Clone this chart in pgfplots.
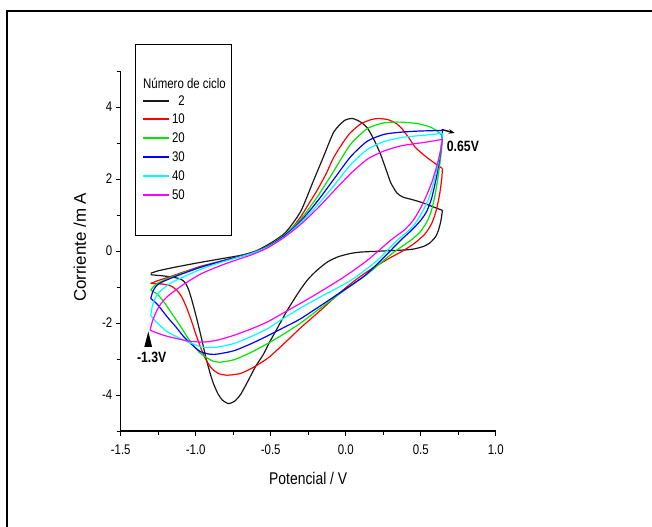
\documentclass[border=0pt]{standalone}
\usepackage{fontspec}
\setmainfont{Liberation Sans}[FakeStretch=0.82]
\newfontfamily\ylabfont{Liberation Sans}
\usepackage{pgfplots}
\pgfplotsset{compat=1.18}
\usetikzlibrary{arrows.meta}
\definecolor{cvblack}{RGB}{25,25,25}
\definecolor{cvred}{RGB}{255,0,0}
\definecolor{cvgreen}{RGB}{0,230,0}
\definecolor{cvblue}{RGB}{0,0,255}
\definecolor{cvcyan}{RGB}{0,255,255}
\definecolor{cvmagenta}{RGB}{255,0,255}

\begin{document}
\begin{tikzpicture}[x=1bp,y=1bp]
\path[use as bounding box] (-120.7,-96) rectangle (531.3,431);
% frame (only top and left edges visible)
\draw[line width=2.2bp] (-113.4,-96) -- (-113.4,420.3) -- (531.3,420.3);

\begin{axis}[
    at={(0,0)}, anchor=south west,
    width=375bp, height=360bp, scale only axis,
    xmin=-1.5, xmax=1.0, ymin=-5, ymax=5,
    axis x line*=bottom, axis y line*=left,
    axis line style={line width=1.1bp,-},
    tick align=outside,
    major tick length=5bp, minor tick length=4bp,
    every tick/.style={black, line width=0.9bp},
    xtick={-1.5,-1,-0.5,0,0.5,1}, xticklabels={-1.5,-1.0,-0.5,0.0,0.5,1.0},
    minor xtick={-1.25,-0.75,-0.25,0.25,0.75},
    ytick={-4,-2,0,2,4}, yticklabels={-4,-2,0,2,4},
    minor ytick={-5,-3,-1,1,3,5},
    ticklabel style={font=\fontsize{14}{16}\selectfont},
    xticklabel style={yshift=-5bp},
    xlabel={Potencial / V}, ylabel={Corriente /m A},
    xlabel style={font=\fontsize{17}{19}\selectfont, at={(axis description cs:0.5,-0.131)}, anchor=center},
    ylabel style={font=\ylabfont\fontsize{17}{19}\selectfont, at={(axis description cs:-0.109,0.51)}, anchor=center},
    clip=false,
    every axis plot/.append style={line width=1.2bp, smooth, tension=0.4},
]
% cycle 2
\addplot[cvblack] coordinates {(-1.30,-0.62) (-1.25,-0.55) (-1.15,-0.46) (-1.0,-0.34) (-0.85,-0.23) (-0.7,-0.12) (-0.6,0.0) (-0.5,0.22) (-0.4,0.52) (-0.3,1.1) (-0.22,1.9) (-0.15,2.6) (-0.08,3.3) (-0.01,3.62) (0.045,3.68) (0.1,3.58) (0.144,3.42) (0.19,3.08) (0.233,2.68) (0.27,2.25) (0.30,1.9) (0.34,1.62) (0.38,1.5) (0.45,1.42) (0.52,1.33) (0.58,1.23) (0.645,1.13)};
\addplot[cvblack] coordinates {(0.645,1.13) (0.635,0.85) (0.62,0.6) (0.6,0.4) (0.56,0.22) (0.52,0.13) (0.46,0.06) (0.4,0.03) (0.3,0.01) (0.2,-0.01) (0.1,-0.03) (0.03,-0.07) (-0.05,-0.16) (-0.12,-0.3) (-0.19,-0.53) (-0.25,-0.78) (-0.3,-1.06) (-0.35,-1.38) (-0.39,-1.65) (-0.43,-1.95) (-0.47,-2.25) (-0.51,-2.55) (-0.55,-2.88) (-0.6,-3.2) (-0.65,-3.6) (-0.7,-3.98) (-0.74,-4.17) (-0.78,-4.24) (-0.82,-4.15) (-0.85,-3.98) (-0.88,-3.7) (-0.9,-3.45) (-0.93,-3.0) (-0.96,-2.45) (-0.99,-1.93) (-1.02,-1.45) (-1.045,-1.1) (-1.07,-0.88) (-1.1,-0.78) (-1.15,-0.73) (-1.22,-0.69) (-1.3,-0.66)};
% cycle 10
\addplot[cvred] coordinates {(-1.3,-0.9) (-1.25,-0.82) (-1.19,-0.74) (-1.1,-0.61) (-0.97,-0.43) (-0.85,-0.3) (-0.74,-0.18) (-0.63,-0.06) (-0.52,0.12) (-0.45,0.3) (-0.37,0.58) (-0.3,0.95) (-0.24,1.35) (-0.19,1.69) (-0.13,2.15) (-0.08,2.6) (-0.02,3.0) (0.03,3.28) (0.1,3.53) (0.17,3.65) (0.22,3.68) (0.28,3.65) (0.33,3.56) (0.37,3.42) (0.42,3.15) (0.46,2.9) (0.5,2.74) (0.55,2.57) (0.6,2.42) (0.645,2.29)};
\addplot[cvred] coordinates {(0.645,2.29) (0.64,2.0) (0.627,1.6) (0.605,1.15) (0.575,0.78) (0.53,0.48) (0.46,0.22) (0.38,0.0) (0.3,-0.18) (0.21,-0.4) (0.12,-0.64) (0.033,-0.91) (-0.05,-1.2) (-0.144,-1.56) (-0.22,-1.84) (-0.3,-2.13) (-0.38,-2.45) (-0.46,-2.76) (-0.52,-2.98) (-0.61,-3.22) (-0.7,-3.4) (-0.79,-3.45) (-0.85,-3.4) (-0.9,-3.23) (-0.94,-2.95) (-0.97,-2.65) (-1.0,-2.3) (-1.03,-1.92) (-1.06,-1.58) (-1.09,-1.3) (-1.12,-1.12) (-1.16,-0.98) (-1.22,-0.92) (-1.3,-0.9)};
% cycle 20
\addplot[cvgreen] coordinates {(-1.3,-1.09) (-1.28,-0.98) (-1.256,-0.9) (-1.19,-0.77) (-1.08,-0.6) (-0.967,-0.45) (-0.85,-0.31) (-0.744,-0.19) (-0.63,-0.06) (-0.52,0.13) (-0.41,0.44) (-0.3,0.88) (-0.19,1.5) (-0.09,2.15) (0.03,2.95) (0.144,3.4) (0.256,3.56) (0.367,3.58) (0.478,3.54) (0.56,3.45) (0.61,3.33) (0.645,3.2)};
\addplot[cvgreen] coordinates {(0.645,3.2) (0.64,2.85) (0.627,2.4) (0.612,1.95) (0.593,1.5) (0.57,1.1) (0.54,0.8) (0.5,0.55) (0.45,0.35) (0.4,0.2) (0.3,-0.1) (0.144,-0.64) (-0.011,-1.1) (-0.189,-1.65) (-0.3,-2.0) (-0.411,-2.3) (-0.52,-2.57) (-0.633,-2.82) (-0.744,-3.02) (-0.844,-3.09) (-0.9,-3.03) (-0.967,-2.85) (-1.02,-2.6) (-1.056,-2.39) (-1.1,-2.1) (-1.144,-1.83) (-1.211,-1.42) (-1.256,-1.2) (-1.3,-1.09)};
% cycle 30
\addplot[cvblue] coordinates {(-1.3,-1.32) (-1.285,-1.12) (-1.265,-0.98) (-1.233,-0.88) (-1.144,-0.72) (-0.967,-0.45) (-0.85,-0.31) (-0.744,-0.19) (-0.63,-0.06) (-0.52,0.12) (-0.41,0.42) (-0.3,0.83) (-0.189,1.38) (-0.078,2.0) (0.033,2.62) (0.144,3.05) (0.256,3.24) (0.367,3.3) (0.478,3.33) (0.56,3.34) (0.645,3.35)};
\addplot[cvblue] coordinates {(0.645,3.35) (0.638,2.95) (0.622,2.45) (0.6,1.95) (0.572,1.45) (0.54,1.1) (0.5,0.85) (0.44,0.58) (0.367,0.3) (0.256,-0.17) (0.122,-0.7) (-0.078,-1.27) (-0.3,-1.88) (-0.41,-2.12) (-0.522,-2.36) (-0.633,-2.58) (-0.744,-2.77) (-0.85,-2.86) (-0.9,-2.87) (-0.967,-2.8) (-1.02,-2.62) (-1.078,-2.39) (-1.13,-2.12) (-1.19,-1.83) (-1.256,-1.48) (-1.3,-1.32)};
% cycle 40
\addplot[cvcyan] coordinates {(-1.3,-1.79) (-1.29,-1.55) (-1.278,-1.38) (-1.256,-1.22) (-1.233,-1.1) (-1.19,-0.96) (-1.144,-0.84) (-1.05,-0.66) (-0.967,-0.51) (-0.85,-0.34) (-0.744,-0.21) (-0.63,-0.07) (-0.52,0.11) (-0.41,0.39) (-0.3,0.79) (-0.189,1.27) (-0.078,1.82) (0.033,2.4) (0.144,2.82) (0.256,3.04) (0.367,3.15) (0.478,3.2) (0.56,3.23) (0.645,3.27)};
\addplot[cvcyan] coordinates {(0.645,3.27) (0.636,2.9) (0.622,2.55) (0.6,2.12) (0.578,1.78) (0.55,1.42) (0.51,1.08) (0.46,0.75) (0.41,0.53) (0.344,0.3) (0.211,-0.26) (0.033,-0.82) (-0.189,-1.32) (-0.3,-1.58) (-0.411,-1.86) (-0.522,-2.16) (-0.633,-2.38) (-0.744,-2.57) (-0.856,-2.67) (-0.92,-2.68) (-0.967,-2.66) (-1.078,-2.48) (-1.19,-2.24) (-1.256,-2.0) (-1.3,-1.79)};
% cycle 50
\addplot[cvmagenta] coordinates {(-1.304,-2.2) (-1.292,-2.0) (-1.278,-1.83) (-1.256,-1.63) (-1.233,-1.47) (-1.2,-1.31) (-1.167,-1.19) (-1.078,-0.92) (-0.967,-0.64) (-0.85,-0.43) (-0.744,-0.27) (-0.63,-0.11) (-0.52,0.09) (-0.41,0.38) (-0.3,0.74) (-0.189,1.18) (-0.078,1.67) (0.033,2.15) (0.144,2.55) (0.256,2.78) (0.367,2.92) (0.478,2.99) (0.56,3.04) (0.645,3.1)};
\addplot[cvmagenta] coordinates {(0.645,3.1) (0.633,2.8) (0.611,2.42) (0.58,1.98) (0.545,1.6) (0.5,1.2) (0.45,0.85) (0.39,0.58) (0.3,0.3) (0.144,-0.26) (-0.011,-0.72) (-0.189,-1.18) (-0.3,-1.45) (-0.411,-1.71) (-0.522,-1.97) (-0.633,-2.17) (-0.744,-2.34) (-0.85,-2.47) (-0.944,-2.53) (-1.05,-2.5) (-1.19,-2.37) (-1.256,-2.28) (-1.304,-2.2)};
\end{axis}

% legend box
\draw[line width=1bp] (15,195) rectangle (111,386);
\begin{scope}[every node/.style={inner sep=0, font=\fontsize{14}{16}\selectfont}]
\node[anchor=west] at (22.3,348) {Número de ciclo};
\draw[cvblack, line width=1.3bp] (22.3,330) -- (48.3,330); \node[anchor=east] at (64.3,330) {2};
\draw[cvred, line width=1.3bp] (22.3,312) -- (48.3,312); \node[anchor=east] at (64.3,312) {10};
\draw[cvgreen, line width=1.3bp] (22.3,293) -- (48.3,293); \node[anchor=east] at (64.3,293) {20};
\draw[cvblue, line width=1.3bp] (22.3,274) -- (48.3,274); \node[anchor=east] at (64.3,274) {30};
\draw[cvcyan, line width=1.3bp] (22.3,255) -- (48.3,255); \node[anchor=east] at (64.3,255) {40};
\draw[cvmagenta, line width=1.3bp] (22.3,236) -- (48.3,236); \node[anchor=east] at (64.3,236) {50};
\end{scope}

% potential limit markers
\fill (23.6,84) -- (31.4,84) -- (27.6,99.5) -- cycle;
\node[inner sep=0, font=\bfseries\fontsize{15}{17}\selectfont] at (31,73.7) {-1.3V};
\draw[-{Stealth[length=6bp,width=4.5bp]}, line width=1.4bp] (321,301.5) -- (334,298);
\node[anchor=west, inner sep=0, font=\bfseries\fontsize{15}{17}\selectfont] at (326,285) {0.65V};
\end{tikzpicture}
\end{document}
